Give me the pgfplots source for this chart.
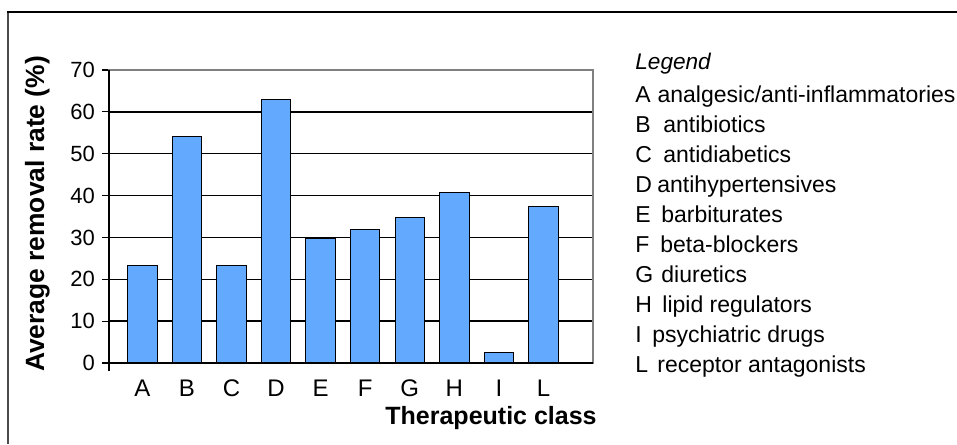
\documentclass[border=0pt]{standalone}
\usepackage{fontspec}
\setmainfont{Liberation Sans}
\usepackage{pgfplots}
\pgfplotsset{compat=1.18}
\definecolor{barblue}{RGB}{99,170,255}
\begin{document}
\begin{tikzpicture}
\useasboundingbox (0,0) rectangle (478.5pt,222pt);
\draw[black!70, line width=1pt] (4pt,0) -- (4pt,215.75pt);
\draw[black, line width=1pt] (3.5pt,215.75pt) -- (478.5pt,215.75pt);
\begin{axis}[
  at={(54.5pt,40.5pt)}, anchor=south west,
  scale only axis, width=242pt, height=146.5pt,
  xmin=-0.747, xmax=10.11, ymin=0, ymax=70,
  ytick={0,10,...,70}, ytick pos=left,
  xtick={0,...,9}, xticklabels={A,B,C,D,E,F,G,H,I,L},
  axis line style={black!50, line width=0.6pt},
  ymajorgrids=true, major grid style={black, line width=0.65pt},
  tick align=outside, major tick length=3.5pt,
  ytick style={black, line width=0.6pt},
  xtick style={draw=none},
  yticklabel style={font=\fontsize{11}{13}\selectfont},
  xticklabel style={font=\fontsize{12}{14}\selectfont, text height=8.6pt, yshift=-1pt},
  /pgf/number format/assume math mode=true,
  clip=false,
]
\addplot[ybar, bar width=14.7pt, fill=barblue, draw=black, line width=0.5pt]
  coordinates {(0,23.2) (1,54.0) (2,23.2) (3,62.9) (4,29.75) (5,31.8) (6,34.7) (7,40.7) (8,2.5) (9,37.5)};
\draw[black!50, line width=0.6pt] (rel axis cs:0,1) -- (rel axis cs:1,1) -- (rel axis cs:1,0);
\draw[black, line width=0.6pt] (rel axis cs:0,0) -- (rel axis cs:1,0);
\draw[black, line width=0.6pt] ([yshift=-4pt]rel axis cs:0,0) -- (rel axis cs:0,1);
\end{axis}
\node[rotate=90, anchor=base, inner sep=0pt, font=\fontsize{13.2}{16}\bfseries] at (22pt,115pt) {Average removal rate (\%)};
\node[anchor=base east, inner sep=0pt, font=\fontsize{12.5}{15}\bfseries] at (298.5pt,9.5pt) {Therapeutic class};
\begin{scope}[every node/.style={anchor=base west, inner sep=0pt, font=\fontsize{11.5}{13}\selectfont}]
\node[font=\fontsize{11.3}{13}\itshape] at (317.5pt,187.35pt) {Legend};
\node at (317.5pt,170.65pt) {A}; \node at (328.6pt,170.65pt) {analgesic/anti-inflammatories};
\node at (317.5pt,155.64pt) {B}; \node at (331.5pt,155.64pt) {antibiotics};
\node at (317.5pt,140.62pt) {C}; \node at (331.5pt,140.62pt) {antidiabetics};
\node at (317.5pt,125.61pt) {D}; \node at (328.5pt,125.61pt) {antihypertensives};
\node at (317.5pt,110.59pt) {E}; \node at (330.5pt,110.59pt) {barbiturates};
\node at (317.5pt,95.58pt) {F}; \node at (330pt,95.58pt) {beta-blockers};
\node at (317.5pt,80.56pt) {G}; \node at (330.5pt,80.56pt) {diuretics};
\node at (317.5pt,65.55pt) {H}; \node at (331pt,65.55pt) {lipid regulators};
\node at (317.5pt,50.53pt) {I}; \node at (326pt,50.53pt) {psychiatric drugs};
\node at (317.5pt,35.52pt) {L}; \node at (328.5pt,35.52pt) {receptor antagonists};
\end{scope}
\end{tikzpicture}
\end{document}
